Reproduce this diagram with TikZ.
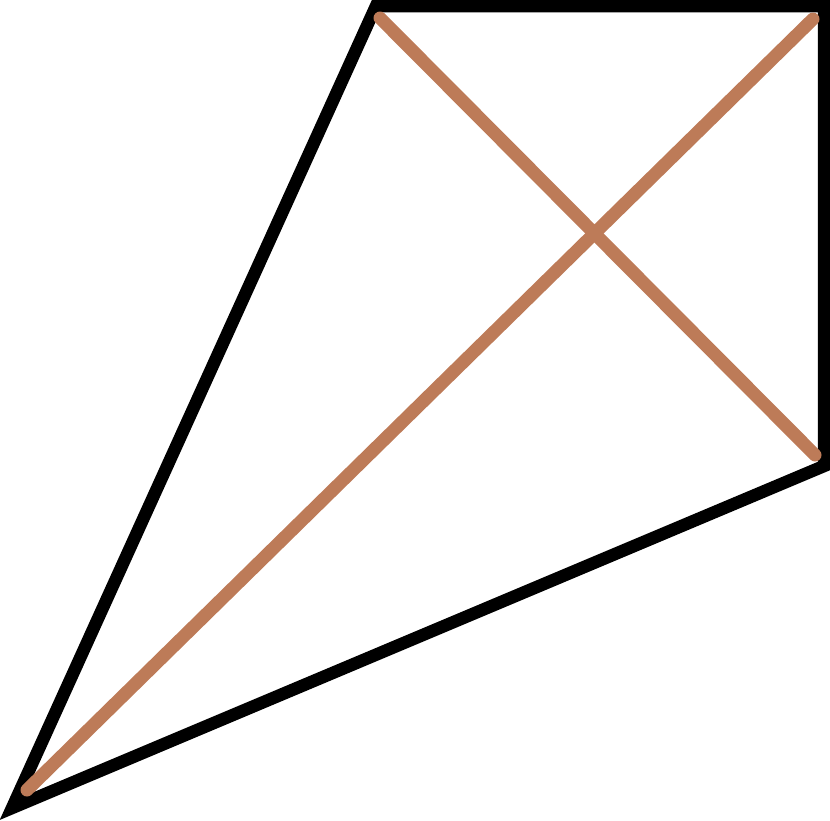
\documentclass[tikz,border=0pt]{standalone}
\definecolor{kitebrown}{RGB}{189,123,88}
\begin{document}
\begin{tikzpicture}[x=1pt,y=-1pt,
  outline/.style={draw=black,line width=12.5pt,line join=miter},
  diag/.style={draw=kitebrown,line width=13pt,line cap=round}]
\useasboundingbox (0,0) rectangle (830,820);
\coordinate (A) at (12,808);
\coordinate (B) at (376,6);
\coordinate (C) at (824,6);
\coordinate (D) at (824,466);
\coordinate (b) at (380,18);
\coordinate (c) at (813,19);
\coordinate (d) at (815,455);
\coordinate (a) at (27,790);
\draw[outline] (A) -- (B) -- (C) -- (D) -- cycle;
\draw[diag] (b) -- (d);
\draw[diag] (a) -- (c);
\end{tikzpicture}
\end{document}
